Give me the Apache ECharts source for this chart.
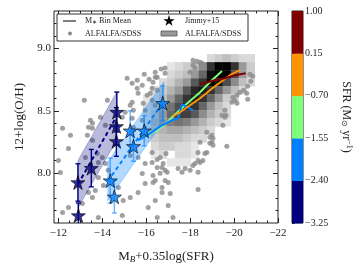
<!DOCTYPE html>
<html><head><meta charset="utf-8">
<script src="https://cdn.jsdelivr.net/npm/echarts@6/dist/echarts.min.js"></script>
<style>html,body{margin:0;padding:0;background:#fff}#c{width:360px;height:270px}</style>
</head><body><div id="c"></div>
<script>
// ---------------- DATA ----------------
const xTicks = [-12, -14, -16, -18, -20, -22];
const xMinorTicks = [-12.5, -13, -13.5, -14.5, -15, -15.5, -16.5, -17, -17.5, -18.5, -19, -19.5, -20.5, -21, -21.5];
const yTicks = [8.0, 8.5, 9.0];
const yMinorTicks = [7.7, 7.8, 7.9, 8.1, 8.2, 8.3, 8.4, 8.6, 8.7, 8.8, 8.9, 9.1, 9.2];

const sfrEdges = [-3.25, -2.40, -1.55, -0.70, 0.15, 1.00];
const sfrColors = ['#000080', '#0080ff', '#7dff7a', '#ff9400', '#800000'];

// ALFALFA/SDSS individual galaxies [M_B+0.35log(SFR), 12+log(O/H)]
const alfalfaPoints = [
 [-15.91,8.793],[-16.41,8.809],[-16.68,8.834],[-16.86,8.842],[-15.59,8.745],[-15.36,8.721],[-16.13,8.753],[-16.41,8.769],
 [-15.82,8.705],[-16.27,8.681],[-16.50,8.665],[-15.59,8.681],[-15.63,8.641],[-16.04,8.625],[-16.27,8.584],[-15.36,8.568],
 [-15.27,8.544],[-15.41,8.504],[-15.04,8.488],[-15.86,8.560],[-15.95,8.504],[-16.41,8.544],[-14.23,8.584],[-13.18,8.584],
 [-13.46,8.424],[-13.55,8.400],[-13.37,8.367],[-13.91,8.448],[-14.14,8.384],[-15.36,8.440],[-14.91,8.448],[-15.82,8.424],
 [-15.41,8.367],[-12.19,8.359],[-16.86,8.801],[-16.50,8.769],[-16.31,8.729],[-15.13,8.761],[-16.18,8.641],
 [-13.55,8.359],[-13.32,8.303],[-13.55,8.263],[-12.55,8.303],[-12.46,8.198],[-12.09,8.005],[-12.00,8.102],[-13.23,8.126],
 [-13.77,8.158],[-14.00,8.126],[-13.82,8.086],[-14.14,8.078],[-14.27,8.022],[-13.82,7.965],[-14.05,7.901],[-13.68,7.861],
 [-13.37,7.845],[-13.55,7.805],[-14.73,7.885],[-14.95,7.780],[-15.27,7.804],[-15.63,7.845],[-15.95,7.917],[-15.82,7.997],
 [-15.95,8.078],[-16.27,8.166],[-15.63,8.126],[-15.27,8.142],[-16.41,7.941],[-16.86,7.941],[-16.72,7.845],[-16.41,7.780],
 [-16.09,7.724],[-17.09,7.837],[-13.09,7.756],[-12.46,7.724],[-12.19,7.684],[-13.82,7.644],[-14.91,7.660],
 [-16.90,8.158],[-16.63,8.126],[-16.50,8.110],[-16.27,8.086],[-16.77,8.078],[-16.72,8.046],[-16.86,8.022],[-16.95,8.006],
 [-16.50,8.046],[-16.63,7.998],[-16.31,7.981],[-16.31,7.925],[-16.72,7.885],[-17.00,7.925],[-17.45,8.038],[-17.63,8.006],
 [-17.77,8.038],[-18.00,8.022],[-18.13,8.062],[-18.22,8.078],[-18.36,8.102],[-18.45,8.086],[-18.36,7.869],[-17.00,7.740],
 [-16.50,7.644],[-17.22,7.644],[-18.36,8.006],[-18.67,8.158],[-18.76,8.166],[-18.36,8.166],[-18.58,8.102],[-18.90,8.287],
 [-18.99,8.247],[-19.04,8.223],[-19.67,8.215],[-18.76,8.327],[-18.99,8.303],[-19.04,8.279],[-18.90,8.239],[-18.45,8.247],
 [-19.45,8.464],[-19.58,8.448],[-19.49,8.384],
 [-18.13,8.906],[-18.31,8.898],[-18.45,8.890],[-18.54,8.882],[-18.13,8.866],[-18.22,8.842],[-17.99,8.809],[-20.72,8.793],
 [-20.85,8.777],[-20.76,8.737],[-20.62,8.697],[-20.44,8.665],[-20.58,8.641],[-20.26,8.649],[-20.13,8.625],[-19.94,8.608],
 [-20.03,8.584],[-19.90,8.568],[-20.13,8.560],[-20.62,8.592],[-19.58,8.504],[-19.63,8.464]
];

// ALFALFA/SDSS 2D histogram: bin edges and relative density (0..10), rows from top
const histXEdges = [-15.85,-16.21,-16.58,-16.94,-17.30,-17.67,-18.03,-18.39,-18.76,-19.12,-19.48,-19.85,-20.21,-20.57,-20.94];
const histYEdges = [8.954,8.890,8.825,8.761,8.697,8.632,8.568,8.504,8.439,8.375,8.311,8.247,8.182,8.118,8.054];
const histDensity = [
 [0,0,0,0,0,0,0,0,1.5,2,2.5,2,1.5,1.5],
 [0,0,0,1,1.5,2,2.5,4.5,8,10,10,8,4,2],
 [0,0,0,1.5,2,2.5,4,6,9.5,10,10,7,4,2],
 [0,0,1.5,2,3,4,6.5,8,10,9,7,4.5,2.5,1.5],
 [0,1.5,2,3,4,6.5,8.5,9,8,6,4,2.5,1.5,0],
 [1,1.5,2.5,4,6,8,9,8,6,4,2,1.5,0,0],
 [1.5,2,3.5,5.5,7,8.5,8,6,4,2.5,1.5,0,0,0],
 [1.5,2.5,4,6,7.5,7.5,6.5,4.5,3,2,1.5,0,0,0],
 [1.5,3,4,5,5.5,5,4,3,2,1.5,1,0,0,0],
 [1.5,2.5,3,3.5,3.5,3,2.5,2,1.5,0,0,0,0,0],
 [1,2,2.5,2.5,2.5,2,1.5,1.5,0,0,0,0,0,0],
 [0,1.5,2,2,1.5,1.5,1,0,0,0,0,0,0,0],
 [0,1,1.5,0,1.5,1.5,1,0,0,0,0,0,0,0],
 [0,0,0,1,1,1,0,0,0,0,0,0,0,0]
];

// Jimmy+15 galaxies
const jimmyX = [-12.89,-12.91,-13.50,-14.66,-14.64,-14.64,-14.36,-14.55,-15.27,-15.42,-15.91,-16.75];
const jimmyY = [7.925,7.66,8.04,8.49,8.375,8.255,7.94,7.81,8.34,8.215,8.34,8.56];
const jimmyErr = [0.15,0.10,0.15,0.16,0.15,0.12,0.18,0.13,0.16,0.12,0.12,0.14];
const jimmySfrBin = [0,0,0,0,0,0,1,1,1,1,1,1];

// linear fits and their bands (per SFR bin)
const fitX = [[-12.89,-14.66],[-14.25,-16.80]];
const fitY = [[7.91,8.457],[7.935,8.575]];
const bandLo = [[7.72,8.265],[7.78,8.42]];
const bandHi = [[8.10,8.65],[8.09,8.73]];

// M* bin mean lines per SFR bin
const meanBlueX = [-15.63,-16.18,-16.63,-17.08,-17.45,-17.63,-17.90,-18.13];
const meanBlueY = [8.263,8.319,8.375,8.416,8.44,8.552,8.528,8.504];
const meanGreenX = [-15.86,-16.41,-16.86,-17.22,-17.77,-18.45,-19.04,-19.45];
const meanGreenY = [8.287,8.335,8.391,8.456,8.544,8.649,8.753,8.818];
const meanOrangeX = [-17.22,-17.54,-18.45,-19.13,-19.81,-20.26];
const meanOrangeY = [8.456,8.488,8.60,8.697,8.785,8.826];
const meanRedX = [-18.45,-19.04,-19.58,-20.04,-20.53];
const meanRedY = [8.713,8.741,8.761,8.785,8.80];

// ---------------- CHART ----------------
const FONT = 'Liberation Serif';
const STAR_PTS = [[50,0],[61.2,34.5],[97.6,34.5],[68.2,55.9],[79.4,90.5],[50,69.1],[20.6,90.5],[31.8,55.9],[2.4,34.5],[38.8,34.5]];
const STAR = 'path://M' + STAR_PTS.map(p => p.join(',')).join('L') + 'Z';
const minus = v => String(v).replace('-', '\u2212');
const zip = (a, b) => a.map((v, i) => [v, b[i]]);

const histData = [];
histDensity.forEach((row, r) => row.forEach((d, c) => {
  if (d > 0) histData.push([histXEdges[c], histXEdges[c + 1], histYEdges[r], histYEdges[r + 1], d]);
}));

const chart = echarts.init(document.getElementById('c'), null, {renderer: 'canvas'});

const axisCommon = {type: 'value', min: -22, max: -11.8, inverse: true, splitLine: {show: false}, axisLine: {show: false}};
const yCommon = {type: 'value', min: 7.6, max: 9.3, splitLine: {show: false}, axisLine: {show: false}};
const lbl = {fontFamily: FONT, fontSize: 11, color: '#222'};

function meanLine(x, y, color) {
  return {type: 'line', data: zip(x, y), showSymbol: false, symbol: 'none', z: 5,
    lineStyle: {color: color, width: 2}, clip: true};
}

chart.setOption({
  animation: false,
  grid: [
    {left: 54, top: 11, width: 224, height: 212, show: true, borderColor: '#222', borderWidth: 1, backgroundColor: 'transparent'},
    {left: 292, top: 11, width: 11, height: 212, show: true, borderColor: '#222', borderWidth: 1}
  ],
  xAxis: [
    Object.assign({}, axisCommon, {gridIndex: 0, position: 'bottom',
      axisTick: {inside: true, length: 5, lineStyle: {color: '#222'}, customValues: xTicks},
      axisLabel: Object.assign({}, lbl, {customValues: xTicks, margin: 5, formatter: minus}),
      name: 'M{b|B}+0.35log(SFR)', nameLocation: 'middle', nameGap: 27,
      nameTextStyle: {fontFamily: FONT, fontSize: 13, color: '#222',
        rich: {b: {fontFamily: FONT, fontSize: 9, fontStyle: 'italic', color: '#222', verticalAlign: 'bottom', padding: [5, 0, 0, 0]}}}}),
    Object.assign({}, axisCommon, {gridIndex: 0, position: 'bottom',
      axisTick: {inside: true, length: 2.5, lineStyle: {color: '#222'}, customValues: xMinorTicks}, axisLabel: {show: false}}),
    Object.assign({}, axisCommon, {gridIndex: 0, position: 'top',
      axisTick: {inside: true, length: 5, lineStyle: {color: '#222'}, customValues: xTicks}, axisLabel: {show: false}}),
    Object.assign({}, axisCommon, {gridIndex: 0, position: 'top',
      axisTick: {inside: true, length: 2.5, lineStyle: {color: '#222'}, customValues: xMinorTicks}, axisLabel: {show: false}}),
    {type: 'value', gridIndex: 1, min: 0, max: 1, show: false}
  ],
  yAxis: [
    Object.assign({}, yCommon, {gridIndex: 0, position: 'left',
      axisTick: {inside: true, length: 5, lineStyle: {color: '#222'}, customValues: yTicks},
      axisLabel: Object.assign({}, lbl, {customValues: yTicks, margin: 3, formatter: v => v.toFixed(1)}),
      name: '12+log(O/H)', nameLocation: 'middle', nameGap: 26,
      nameTextStyle: {fontFamily: FONT, fontSize: 13, color: '#222'}}),
    Object.assign({}, yCommon, {gridIndex: 0, position: 'left',
      axisTick: {inside: true, length: 2.5, lineStyle: {color: '#222'}, customValues: yMinorTicks}, axisLabel: {show: false}}),
    Object.assign({}, yCommon, {gridIndex: 0, position: 'right',
      axisTick: {inside: true, length: 5, lineStyle: {color: '#222'}, customValues: yTicks}, axisLabel: {show: false}}),
    Object.assign({}, yCommon, {gridIndex: 0, position: 'right',
      axisTick: {inside: true, length: 2.5, lineStyle: {color: '#222'}, customValues: yMinorTicks}, axisLabel: {show: false}}),
    {type: 'value', gridIndex: 1, min: sfrEdges[0], max: sfrEdges[sfrEdges.length - 1], interval: 0.85, position: 'right',
      splitLine: {show: false}, axisLine: {show: false},
      axisTick: {show: true, inside: false, length: 2.5, lineStyle: {color: '#222'}},
      axisLabel: Object.assign({}, lbl, {fontSize: 10, margin: 2, formatter: v => minus(v.toFixed(2))}),
      name: 'SFR (M{s|\u2299} yr{p|\u22121})', nameLocation: 'middle', nameRotate: -90, nameGap: 37,
      nameTextStyle: {fontFamily: FONT, fontSize: 12, color: '#222',
        rich: {s: {fontFamily: FONT, fontSize: 8, color: '#222', verticalAlign: 'bottom', padding: [5, 0, 0, 0]},
               p: {fontFamily: FONT, fontSize: 8, color: '#222', verticalAlign: 'top', padding: [0, 0, 5, 0]}}}}
  ],
  series: [
    {type: 'custom', xAxisIndex: 0, yAxisIndex: 0, z: 1, clip: true, data: histData,
      encode: {x: [0, 1], y: [2, 3]},
      renderItem: (p, api) => {
        const a = api.coord([api.value(0), api.value(2)]);
        const b = api.coord([api.value(1), api.value(3)]);
        const g = Math.round(255 * (1 - api.value(4) / 10));
        return {type: 'rect', shape: {x: Math.min(a[0], b[0]), y: Math.min(a[1], b[1]),
          width: Math.abs(b[0] - a[0]) + 0.3, height: Math.abs(b[1] - a[1]) + 0.3},
          style: {fill: 'rgb(' + g + ',' + g + ',' + g + ')'}};
      }},
    {type: 'scatter', xAxisIndex: 0, yAxisIndex: 0, z: 2, data: alfalfaPoints, symbolSize: 5,
      itemStyle: {color: '#8a8a8a'}, clip: true},
    {type: 'custom', xAxisIndex: 0, yAxisIndex: 0, z: 3, clip: true,
      data: fitX.map((fx, i) => [fx[0], fx[1], bandLo[i][0], bandHi[i][0], bandLo[i][1], bandHi[i][1], i]),
      encode: {x: [0, 1], y: [2, 3, 4, 5]},
      renderItem: (p, api) => {
        const x1 = api.value(0), x2 = api.value(1), i = api.value(6);
        const pts = [api.coord([x1, api.value(3)]), api.coord([x2, api.value(5)]), api.coord([x2, api.value(4)]), api.coord([x1, api.value(2)])];
        const fill = i === 0 ? 'rgba(0,0,128,0.27)' : 'rgba(0,128,255,0.3)';
        const stroke = i === 0 ? 'rgba(0,0,128,0.35)' : 'rgba(0,128,255,0.4)';
        return {type: 'polygon', shape: {points: pts}, style: {fill: fill, stroke: stroke, lineWidth: 0.8}};
      }},
    meanLine(meanGreenX, meanGreenY, sfrColors[2]),
    meanLine(meanBlueX, meanBlueY, sfrColors[1]),
    meanLine(meanOrangeX, meanOrangeY, sfrColors[3]),
    meanLine(meanRedX, meanRedY, sfrColors[4]),
    {type: 'line', data: zip(fitX[0], fitY[0]), showSymbol: false, symbol: 'none', z: 6,
      lineStyle: {color: sfrColors[0], width: 2, type: [4, 3]}},
    {type: 'line', data: zip(fitX[1], fitY[1]), showSymbol: false, symbol: 'none', z: 6,
      lineStyle: {color: sfrColors[1], width: 2, type: [4, 3]}},
    {type: 'custom', xAxisIndex: 0, yAxisIndex: 0, z: 7, clip: true,
      data: jimmyX.map((x, i) => [x, jimmyY[i], jimmyErr[i], jimmySfrBin[i]]),
      renderItem: (p, api) => {
        const x = api.value(0), y = api.value(1), e = api.value(2), b = api.value(3);
        const t = api.coord([x, y + e]), d = api.coord([x, y - e]);
        const col = b === 0 ? '#000080' : 'rgba(0,128,255,0.6)';
        const st = {stroke: col, lineWidth: 1.4};
        return {type: 'group', children: [
          {type: 'line', shape: {x1: t[0], y1: t[1], x2: d[0], y2: d[1]}, style: st},
          {type: 'line', shape: {x1: t[0] - 2.5, y1: t[1], x2: t[0] + 2.5, y2: t[1]}, style: st},
          {type: 'line', shape: {x1: d[0] - 2.5, y1: d[1], x2: d[0] + 2.5, y2: d[1]}, style: st}
        ]};
      }},
    {type: 'scatter', xAxisIndex: 0, yAxisIndex: 0, z: 8, symbol: STAR, symbolSize: 14,
      data: jimmyX.map((x, i) => ({value: [x, jimmyY[i]], itemStyle: {color: sfrColors[jimmySfrBin[i]]}})),
      itemStyle: {borderColor: '#000', borderWidth: 0.8}},
    {type: 'custom', xAxisIndex: 4, yAxisIndex: 4, z: 1,
      data: sfrColors.map((c, i) => [sfrEdges[i], sfrEdges[i + 1], i]),
      encode: {y: [0, 1]},
      renderItem: (p, api) => {
        const a = api.coord([0, api.value(1)]), b = api.coord([1, api.value(0)]);
        return {type: 'rect', shape: {x: a[0], y: a[1], width: b[0] - a[0], height: b[1] - a[1] + 0.3},
          style: {fill: sfrColors[api.value(2)]}};
      }}
  ],
  graphic: [
    {type: 'rect', shape: {x: 57, y: 14, width: 191, height: 27}, style: {fill: '#fff', stroke: '#333', lineWidth: 1}, z: 100},
    {type: 'line', shape: {x1: 63, y1: 21, x2: 76, y2: 21}, style: {stroke: '#555', lineWidth: 1.5}, z: 101},
    {type: 'circle', shape: {cx: 70, cy: 33.5, r: 2}, style: {fill: '#8a8a8a'}, z: 101},
    {type: 'polygon', shape: {points: STAR_PTS.map(p => [163 + p[0] * 0.12, 15 + p[1] * 0.12])}, style: {fill: '#000'}, z: 101},
    {type: 'rect', shape: {x: 161, y: 31, width: 16, height: 5}, style: {fill: '#999', stroke: '#555', lineWidth: 0.8}, z: 101},
    {type: 'text', x: 85, y: 21, z: 101, style: {text: 'M{s|\u2217} Bin Mean', fontFamily: FONT, fontSize: 8, fill: '#222', verticalAlign: 'middle',
      rich: {s: {fontFamily: FONT, fontSize: 6, fill: '#222', verticalAlign: 'bottom', padding: [3, 0, 0, 0]}}}},
    {type: 'text', x: 85, y: 33.5, z: 101, style: {text: 'ALFALFA/SDSS', fontFamily: FONT, fontSize: 8, fill: '#222', verticalAlign: 'middle'}},
    {type: 'text', x: 185, y: 21, z: 101, style: {text: 'Jimmy+15', fontFamily: FONT, fontSize: 8, fill: '#222', verticalAlign: 'middle'}},
    {type: 'text', x: 185, y: 33.5, z: 101, style: {text: 'ALFALFA/SDSS', fontFamily: FONT, fontSize: 8, fill: '#222', verticalAlign: 'middle'}}
  ]
});
</script></body></html>
